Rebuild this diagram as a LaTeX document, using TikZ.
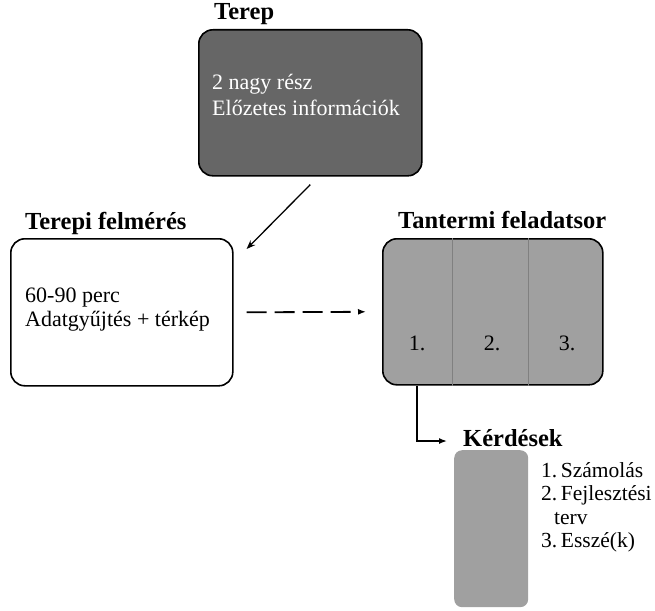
\documentclass[tikz,border=0pt]{standalone}
\usepackage{fontspec}
\setmainfont{Liberation Serif}
\usetikzlibrary{positioning, arrows.meta}

\definecolor{darkbox}{HTML}{666666}
\definecolor{lightbox}{HTML}{A0A0A0}

\begin{document}
\begin{tikzpicture}[x=1pt, y=-1pt,
    box/.style={draw, line width=1.6pt, rounded corners=14pt, anchor=north west, inner sep=0pt},
    title/.style={font=\fontsize{24.5}{28}\selectfont\bfseries, anchor=west, inner sep=0pt},
    body/.style={font=\fontsize{22}{24}\selectfont, anchor=west, align=left, inner sep=0pt}]
    \useasboundingbox (0,0) rectangle (655,610);

    % Terep
    \node[box, fill=darkbox, minimum width=223pt, minimum height=146pt] (terep) at (198,29) {};
    \node[title] (tereptitle) at (214,14) {Terep};
    \node[body, text=white, font=\fontsize{22}{26}\selectfont] (tereptext) at (212,95) {2 nagy rész\\Előzetes információk};

    % Terepi felmeres
    \node[box, minimum width=222pt, minimum height=147pt] (felmeres) at (10,238) {};
    \node[title] (felmerestitle) at (25,223) {Terepi felmérés};
    \node[body] (felmerestext) at (25,310) {60-90 perc\\Adatgyűjtés + térkép};

    % Tantermi feladatsor
    \node[box, fill=lightbox, minimum width=220pt, minimum height=146pt] (feladat) at (382,238) {};
    \node[title] (feladattitle) at (398,220) {Tantermi feladatsor};
    \draw[gray] ([xshift=70pt]feladat.north west) -- ([xshift=70pt]feladat.south west);
    \draw[gray] ([xshift=146pt]feladat.north west) -- ([xshift=146pt]feladat.south west);
    \node[body, anchor=center] (f1) at (417,343) {1.};
    \node[body, anchor=center] (f2) at (492,343) {2.};
    \node[body, anchor=center] (f3) at (567,343) {3.};

    % Kerdesek
    \node[title] (kerdesektitle) at (463,438) {Kérdések};
    \node[anchor=north west, fill=lightbox, rounded corners=8pt, minimum width=74pt, minimum height=157pt, inner sep=0pt] (kerdesek) at (454,450) {};
    \node[body, anchor=north west, font=\fontsize{21.5}{23.5}\selectfont] (kerdeseklist) at (541,462) {1.\,Számolás\\2.\,Fejlesztési\\\hspace*{13pt}terv\\3.\,Esszé(k)};

    \draw[-{Stealth[length=9pt]}, line width=1.3pt] ([yshift=-8pt]terep.south) -- ([xshift=13pt,yshift=-11pt]felmeres.north east);
    \draw[-{Latex[length=8pt]}, line width=1.8pt, dash pattern=on 20pt off 8pt] ([xshift=13pt]felmeres.east) -- ([xshift=-16pt]feladat.west);
    \draw[-{Latex[length=8pt]}, line width=1.5pt] (f1 |- feladat.south) |- ([xshift=-16pt,yshift=-3pt]kerdesektitle.west);
\end{tikzpicture}
\end{document}
